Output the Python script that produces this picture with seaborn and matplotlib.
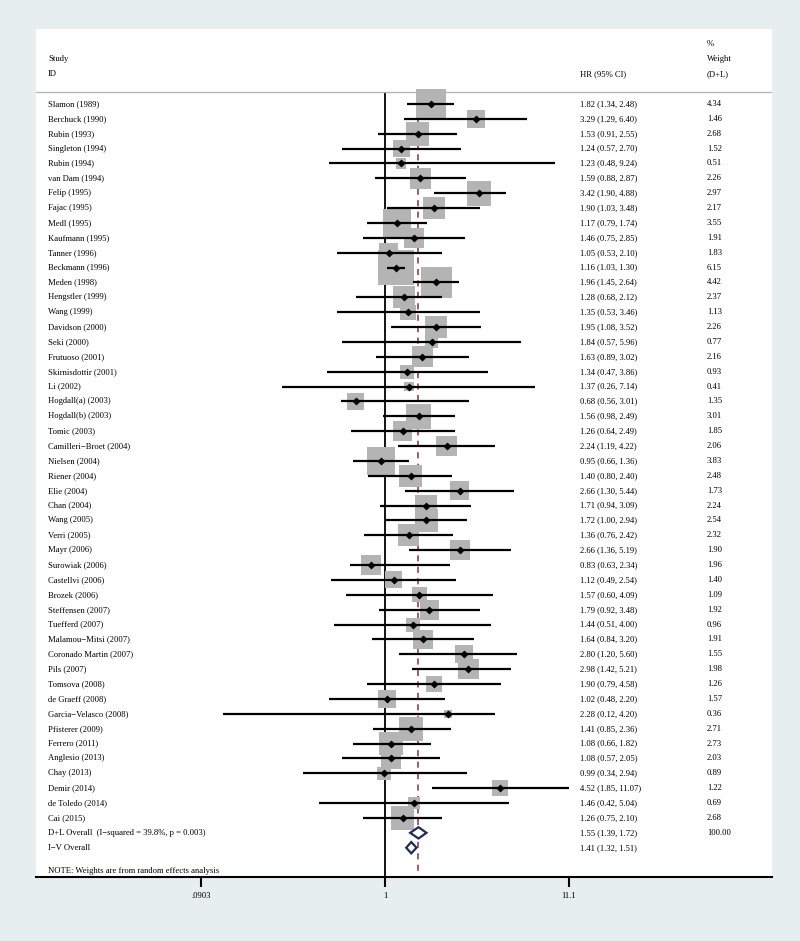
import numpy as np
import pandas as pd
import seaborn as sns
import matplotlib
matplotlib.use("Agg")
from matplotlib import pyplot as plt
from matplotlib.ticker import NullLocator
from matplotlib.transforms import blended_transform_factory

# study level hazard ratios (HR, 95% CI) and random effects weights
studies = ["Slamon (1989)", "Berchuck (1990)", "Rubin (1993)", "Singleton (1994)",
           "Rubin (1994)", "van Dam (1994)", "Felip (1995)", "Fajac (1995)",
           "Medl (1995)", "Kaufmann (1995)", "Tanner (1996)", "Beckmann (1996)",
           "Meden (1998)", "Hengstler (1999)", "Wang (1999)", "Davidson (2000)",
           "Seki (2000)", "Frutuoso (2001)", "Skirnisdottir (2001)", "Li (2002)",
           "Hogdall(a) (2003)", "Hogdall(b) (2003)", "Tomic (2003)",
           "Camilleri\u2212Broet (2004)", "Nielsen (2004)", "Riener (2004)",
           "Elie (2004)", "Chan (2004)", "Wang (2005)", "Verri (2005)", "Mayr (2006)",
           "Surowiak (2006)", "Castellvi (2006)", "Brozek (2006)", "Steffensen (2007)",
           "Tuefferd (2007)", "Malamou\u2212Mitsi (2007)", "Coronado Martin (2007)",
           "Pils (2007)", "Tomsova (2008)", "de Graeff (2008)",
           "Garcia\u2212Velasco (2008)", "Pfisterer (2009)", "Ferrero (2011)",
           "Anglesio (2013)", "Chay (2013)", "Demir (2014)", "de Toledo (2014)",
           "Cai (2015)"]
hr = [1.82, 3.29, 1.53, 1.24, 1.23, 1.59, 3.42, 1.90, 1.17, 1.46, 1.05, 1.16,
      1.96, 1.28, 1.35, 1.95, 1.84, 1.63, 1.34, 1.37, 0.68, 1.56, 1.26, 2.24,
      0.95, 1.40, 2.66, 1.71, 1.72, 1.36, 2.66, 0.83, 1.12, 1.57, 1.79, 1.44,
      1.64, 2.80, 2.98, 1.90, 1.02, 2.28, 1.41, 1.08, 1.08, 0.99, 4.52, 1.46,
      1.26]
ci_lo = [1.34, 1.29, 0.91, 0.57, 0.48, 0.88, 1.90, 1.03, 0.79, 0.75, 0.53, 1.03,
         1.45, 0.68, 0.53, 1.08, 0.57, 0.89, 0.47, 0.26, 0.56, 0.98, 0.64, 1.19,
         0.66, 0.80, 1.30, 0.94, 1.00, 0.76, 1.36, 0.63, 0.49, 0.60, 0.92, 0.51,
         0.84, 1.20, 1.42, 0.79, 0.48, 0.12, 0.85, 0.66, 0.57, 0.34, 1.85, 0.42,
         0.75]
ci_hi = [2.48, 6.40, 2.55, 2.70, 9.24, 2.87, 4.88, 3.48, 1.74, 2.85, 2.10, 1.30,
         2.64, 2.12, 3.46, 3.52, 5.96, 3.02, 3.86, 7.14, 3.01, 2.49, 2.49, 4.22,
         1.36, 2.40, 5.44, 3.09, 2.94, 2.42, 5.19, 2.34, 2.54, 4.09, 3.48, 4.00,
         3.20, 5.60, 5.21, 4.58, 2.20, 4.20, 2.36, 1.82, 2.05, 2.94, 11.07, 5.04,
         2.10]
weights = [4.34, 1.46, 2.68, 1.52, 0.51, 2.26, 2.97, 2.17, 3.55, 1.91, 1.83, 6.15,
           4.42, 2.37, 1.13, 2.26, 0.77, 2.16, 0.93, 0.41, 1.35, 3.01, 1.85, 2.06,
           3.83, 2.48, 1.73, 2.24, 2.54, 2.32, 1.90, 1.96, 1.40, 1.09, 1.92, 0.96,
           1.91, 1.55, 1.98, 1.26, 1.57, 0.36, 2.71, 2.73, 2.03, 0.89, 1.22, 0.69,
           2.68]

# pooled estimates
overall_labels = ["D+L Overall  (I\u2212squared = 39.8%, p = 0.003)", "I\u2212V Overall"]
overall_hr = [1.55, 1.41]
overall_lo = [1.39, 1.32]
overall_hi = [1.72, 1.51]
overall_weight = ["100.00", ""]

x_ticks = [0.0903, 1, 11.1]
x_tick_labels = [".0903", "1", "11.1"]

bg = "#e7eef0"
box_grey = "#b4b4b4"
navy = "#1f2b5e"
maroon = "#8b2e3f"
fs = 6.2

plt.rcParams["font.family"] = ["Liberation Serif", "DejaVu Serif"]

df = pd.DataFrame({"study": studies, "hr": hr, "lo": ci_lo, "hi": ci_hi,
                   "weight": weights})
df["row"] = np.arange(len(df))
n = len(df)

fig = plt.figure(figsize=(8, 9.41), dpi=100, facecolor=bg)
ax = fig.add_axes([0.045, 0.068, 0.92, 0.9012], facecolor="white")
ax.set_xscale("log")
ax.set_xlim(np.exp(-4.568), np.exp(5.065))
y_bottom, y_top = 51.97, -5.042
ax.set_ylim(y_bottom, y_top)

# reference lines: null effect and pooled D+L estimate
ax.vlines(1, -0.807, y_bottom, color="black", lw=1.3, zorder=1)
ax.vlines(overall_hr[0], -0.5, y_bottom, colors=maroon, lw=1.1,
          linestyles=(0, (4, 3.5)), zorder=1)
ax.axhline(-0.807, color="#b0b0b0", lw=0.9)

# weight boxes, area proportional to weight
wmin, wmax = min(weights), max(weights)
sns.scatterplot(data=df, x="hr", y="row", size="weight",
                sizes=(107.5 * wmin, 107.5 * wmax), size_norm=(wmin, wmax),
                marker="s", color=box_grey, edgecolor="none", linewidth=0,
                legend=False, ax=ax, zorder=2)

ax.hlines(df["row"], df["lo"], df["hi"], color="black", lw=1.6, zorder=3)

sns.scatterplot(data=df, x="hr", y="row", marker="D", s=14, color="black",
                edgecolor="black", linewidth=0.3, legend=False, ax=ax, zorder=4)

# hollow diamonds for the pooled results
for k in range(2):
    r = n + k
    h = 0.38
    ax.fill([overall_lo[k], overall_hr[k], overall_hi[k], overall_hr[k]],
            [r, r - h, r, r + h], facecolor="white", edgecolor=navy,
            lw=1.6, zorder=5)

# text columns
tr = blended_transform_factory(ax.transAxes, ax.transData)
x_id, x_hr, x_w = 0.0163, 0.739, 0.9117
for _, d in df.iterrows():
    ax.text(x_id, d["row"], d["study"], transform=tr, va="center", fontsize=fs)
    ax.text(x_hr, d["row"], "%.2f (%.2f, %.2f)" % (d["hr"], d["lo"], d["hi"]),
            transform=tr, va="center", fontsize=fs)
    ax.text(x_w, d["row"], "%.2f" % d["weight"], transform=tr, va="center",
            fontsize=fs)
for k in range(2):
    r = n + k
    ax.text(x_id, r, overall_labels[k], transform=tr, va="center", fontsize=fs)
    ax.text(x_hr, r, "%.2f (%.2f, %.2f)" % (overall_hr[k], overall_lo[k], overall_hi[k]),
            transform=tr, va="center", fontsize=fs)
    ax.text(x_w, r, overall_weight[k], transform=tr, va="center", fontsize=fs)

ax.text(x_id, 51.54, "NOTE: Weights are from random effects analysis",
        transform=tr, va="center", fontsize=fs)

# header
ax.text(x_id, -3.03, "Study", transform=tr, va="center", fontsize=fs)
ax.text(x_id, -2.02, "ID", transform=tr, va="center", fontsize=fs)
ax.text(x_hr, -2.02, "HR (95% CI)", transform=tr, va="center", fontsize=fs)
ax.text(x_w, -4.03, "%", transform=tr, va="center", fontsize=fs)
ax.text(x_w, -3.03, "Weight", transform=tr, va="center", fontsize=fs)
ax.text(x_w, -2.02, "(D+L)", transform=tr, va="center", fontsize=fs)

# axis styling
ax.set_xticks(x_ticks, x_tick_labels)
ax.xaxis.set_minor_locator(NullLocator())
ax.set_yticks([])
ax.tick_params(axis="x", length=7, width=1.5, pad=4, labelsize=fs)
ax.set_xlabel("")
ax.set_ylabel("")
sns.despine(ax=ax, left=True, top=True, right=True)
ax.spines["bottom"].set_linewidth(1.5)

fig.savefig("out.png", dpi=100, facecolor=bg)
